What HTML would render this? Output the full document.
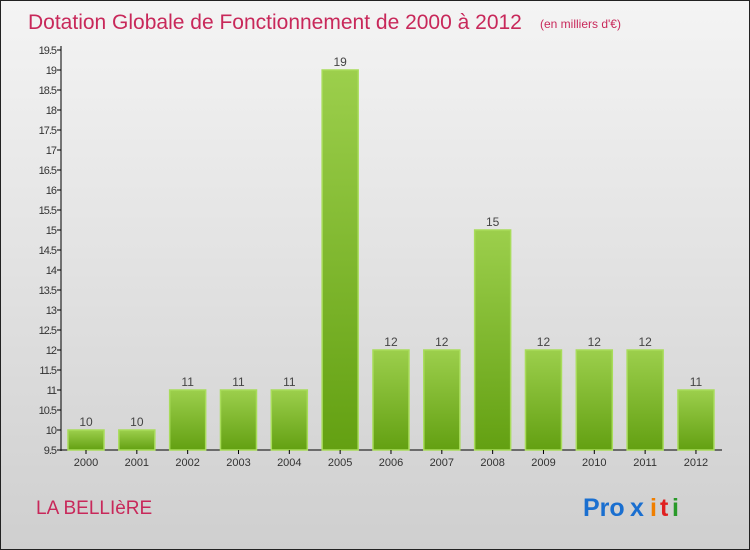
<!DOCTYPE html>
<html><head><meta charset="utf-8"><style>
body{margin:0}
#c{width:750px;height:550px;position:relative;font-family:"Liberation Sans",sans-serif;background:linear-gradient(#f4f4f4,#cfcfcf);border:1px solid #222;box-sizing:border-box;overflow:hidden}
</style></head><body>
<div id="c">
<svg id="s" width="750" height="550" style="position:absolute;left:-1px;top:-1px">
<defs><linearGradient id="g" x1="0" y1="0" x2="0" y2="1"><stop offset="0" stop-color="#9ccf4c"/><stop offset="1" stop-color="#63a012"/></linearGradient></defs>
<text x="28" y="29" font-size="21" fill="#c8285a">Dotation Globale de Fonctionnement de 2000 à 2012</text>
<text x="540" y="28" font-size="12" fill="#c8285a">(en milliers d'€)</text>
<text x="36" y="514" font-size="19" fill="#c8285a">LA BELLIèRE</text>
<g font-size="25" font-weight="bold"><text x="583" y="516" fill="#1a6fd0">Pro</text><text x="630" y="516" fill="#1a6fd0">x</text><text x="650" y="516" fill="#f07f00">i</text><text x="660" y="516" fill="#e02020">t</text><text x="672" y="516" fill="#2a9a2a">i</text></g>
</svg></div>
<script>
const categories=["2000","2001","2002","2003","2004","2005","2006","2007","2008","2009","2010","2011","2012"];
const values=[10,10,11,11,11,19,12,12,15,12,12,12,11];
const yTicks=[9.5,10,10.5,11,11.5,12,12.5,13,13.5,14,14.5,15,15.5,16,16.5,17,17.5,18,18.5,19,19.5];
const s=document.getElementById('s');const NS='http://www.w3.org/2000/svg';
const y=v=>450-(v-9.5)*40;const x=i=>86+i*50.83;
function mk(t,a,p){const e=document.createElementNS(NS,t);for(const k in a)e.setAttribute(k,a[k]);(p||s).appendChild(e);return e;}
const ax=mk('line',{x1:61,y1:46,x2:61,y2:451,stroke:'#000'});


const bx=mk('line',{x1:61,y1:450,x2:722,y2:450,stroke:'#000'});


yTicks.forEach(v=>{mk('line',{x1:57,y1:y(v),x2:61,y2:y(v),stroke:'#000'});
const t=mk('text',{x:56,y:y(v)+4,'font-size':11,'text-anchor':'end',fill:'#333','letter-spacing':'-1'});t.textContent=v;

});
categories.forEach((c,i)=>{
const r=mk('rect',{x:x(i)-18,y:y(values[i]),width:36,height:450-y(values[i]),fill:'url(#g)',stroke:'#a8dc5a','stroke-width':1.5});


const l=mk('text',{x:x(i),y:y(values[i])-4,'font-size':12,'text-anchor':'middle',fill:'#444'});l.textContent=values[i];


mk('line',{x1:x(i),y1:450,x2:x(i),y2:454,stroke:'#000'});
const t=mk('text',{x:x(i),y:466,'font-size':11,'text-anchor':'middle',fill:'#333'});t.textContent=c;

});
</script></body></html>
